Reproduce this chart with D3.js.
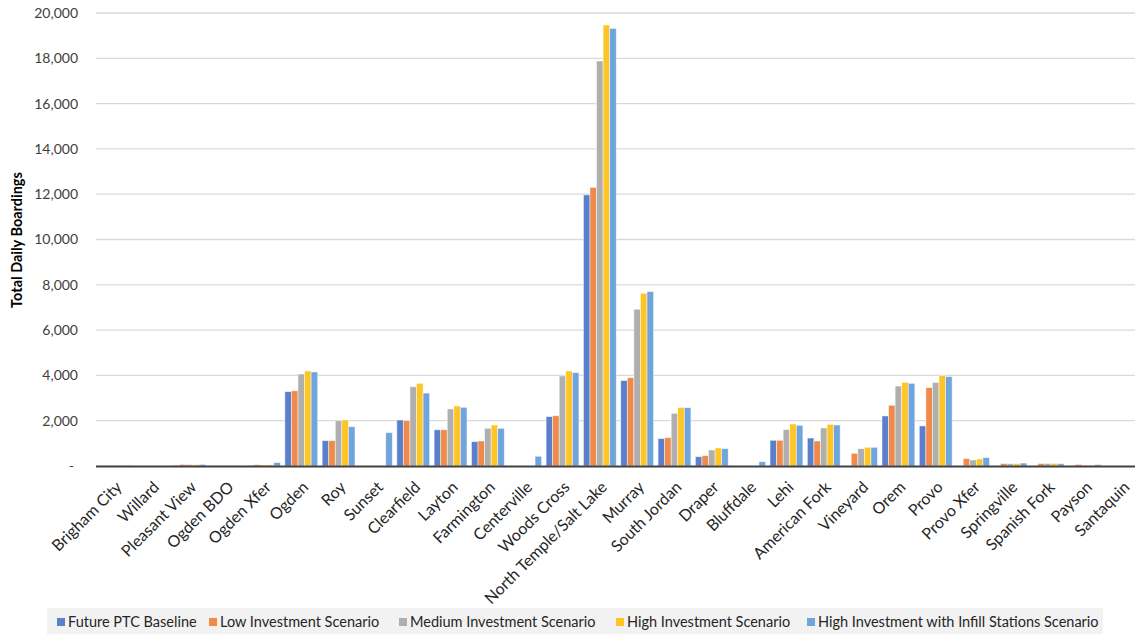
<!DOCTYPE html>
<html><head><meta charset="utf-8">
<script src="https://cdn.jsdelivr.net/npm/d3@7"></script>
<style>body{margin:0;background:#fff;}svg{display:block;font-family:Lato,"Open Sans",sans-serif;}</style>
</head><body>
<svg id="c" width="1135" height="634"></svg>
<script>
const categories = ["Brigham City","Willard","Pleasant View","Ogden BDO","Ogden Xfer","Ogden","Roy","Sunset","Clearfield","Layton","Farmington","Centerville","Woods Cross","North Temple/Salt Lake","Murray","South Jordan","Draper","Bluffdale","Lehi","American Fork","Vineyard","Orem","Provo","Provo Xfer","Springville","Spanish Fork","Payson","Santaquin"];
const seriesNames = ["Future PTC Baseline","Low Investment Scenario","Medium Investment Scenario","High Investment Scenario","High Investment with Infill Stations Scenario"];
const baseline = [10,0,30,10,20,3280,1120,0,2030,1600,1075,0,2180,11970,3770,1210,410,0,1135,1235,0,2210,1770,0,0,0,0,0];
const lowInv   = [10,0,70,10,60,3320,1120,0,2000,1600,1105,0,2220,12300,3900,1250,455,0,1135,1105,560,2680,3460,325,105,110,70,0];
const medInv   = [10,0,60,10,40,4060,2000,0,3500,2520,1665,0,3975,17880,6920,2325,705,0,1605,1680,765,3530,3690,265,100,110,30,0];
const highInv  = [10,0,60,10,50,4195,2030,0,3650,2650,1810,0,4195,19470,7625,2575,795,0,1855,1840,825,3695,3990,310,100,110,30,0];
const highInfill=[20,0,70,10,150,4150,1735,1470,3220,2590,1665,430,4120,19320,7700,2575,765,190,1795,1810,825,3650,3945,370,130,100,60,0];
const yTicks = [0,2000,4000,6000,8000,10000,12000,14000,16000,18000,20000];
const colors = ["#5a7fcb","#ef8a4b","#afafaf","#fec524","#6fa5dc"];

const allSeries = [baseline,lowInv,medInv,highInv,highInfill];
const svg = d3.select("#c");
const x = d3.scaleBand().domain(categories).range([96,1141]).paddingInner(0.12).paddingOuter(0.06);
const xi = d3.scaleBand().domain(seriesNames).range([0,x.bandwidth()]);
const y = d3.scaleLinear().domain([0,20000]).range([466,13]);

// gridlines
svg.append("g").selectAll("line").data(yTicks.filter(d=>d>0)).join("line")
  .attr("x1",96).attr("x2",1135).attr("y1",d=>y(d)).attr("y2",d=>y(d))
  .attr("stroke","#d9d9d9").attr("stroke-width",1.3);

// y axis labels
const fmt = d3.format(",");
svg.append("g").selectAll("text").data(yTicks).join("text")
  .attr("x",d=>d===0?74:78).attr("y",d=>y(d)).attr("dy","0.35em")
  .attr("text-anchor","end").attr("font-size",14).attr("fill","#404040")
  .text(d=>d===0?"-":fmt(d));

// bars
const groups = svg.append("g").selectAll("g").data(categories).join("g")
  .attr("transform",d=>`translate(${x(d)},0)`);
groups.selectAll("rect").data((c,i)=>seriesNames.map((s,j)=>({s,j,v:allSeries[j][i]}))).join("rect")
  .attr("x",d=>xi(d.s)).attr("width",xi.bandwidth())
  .attr("y",d=>y(d.v)).attr("height",d=>y(0)-y(d.v))
  .attr("fill",d=>colors[d.j]).attr("stroke","#ffffff").attr("stroke-opacity",0.6).attr("stroke-width",0.8);

// x axis line
svg.append("line").attr("x1",96).attr("x2",1135).attr("y1",y(0)+0.5).attr("y2",y(0)+0.5)
  .attr("stroke","#404040").attr("stroke-width",2.2);

// x labels
svg.append("g").selectAll("text").data(categories).join("text")
  .attr("transform",d=>`translate(${x(d)+x.bandwidth()/2},480) rotate(-45)`)
  .attr("dy","0.72em").attr("text-anchor","end").attr("font-size",16).attr("fill","#262626")
  .text(d=>d);

// y title
svg.append("text").attr("transform","translate(17,240) rotate(-90)").attr("dy","0.35em")
  .attr("text-anchor","middle").attr("font-size",14.5).attr("font-weight","bold").attr("fill","#000")
  .text("Total Daily Boardings");

// legend
const lg = svg.append("g");
lg.append("rect").attr("x",47).attr("y",608).attr("width",1056).attr("height",26).attr("fill","#f2f2f2");
const legendX = [57,209,399,616,807];
const li = lg.selectAll("g").data(seriesNames).join("g").attr("transform",(d,i)=>`translate(${legendX[i]},622)`);
li.append("rect").attr("x",0).attr("y",-4).attr("width",8).attr("height",8).attr("fill",(d,i)=>colors[i]);
li.append("text").attr("x",11).attr("dy","0.35em").attr("font-size",14.5).attr("fill","#262626").text(d=>d);
</script>
</body></html>
